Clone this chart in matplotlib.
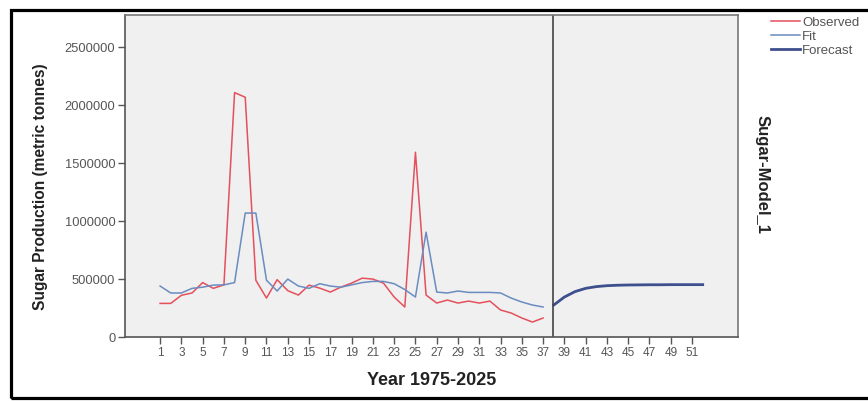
import numpy as np
import matplotlib
matplotlib.use("Agg")
import matplotlib.pyplot as plt
from matplotlib.patches import Rectangle

plt.rcParams["font.family"] = ["Liberation Sans", "DejaVu Sans"]

# observed / fitted values, periods 1..37
years_obs = list(range(1, 38))
observed = [290000, 290000, 360000, 380000, 470000, 420000, 450000, 2110000, 2070000, 490000,
            336000, 495000, 400000, 362000, 448000, 422000, 388000, 431000, 465000, 508000,
            500000, 465000, 345000, 259000, 1595000, 362000, 293000, 319000, 293000, 310000,
            293000, 310000, 233000, 207000, 164000, 129000, 164000]
fit = [440000, 380000, 380000, 420000, 430000, 448000, 450000, 470000, 1070000, 1070000,
       490000, 397000, 500000, 440000, 420000, 460000, 440000, 430000, 450000, 470000,
       480000, 480000, 460000, 410000, 345000, 905000, 388000, 380000, 397000, 385000,
       385000, 385000, 380000, 336000, 302000, 276000, 259000]

# forecast, periods 38..52
years_fc = list(range(38, 53))
forecast = [276000, 345000, 392000, 420000, 435000, 443000, 447000, 449000, 450000, 451000,
            451000, 452000, 452000, 452000, 452000]

x_ticks = list(range(1, 52, 2))
y_ticks = [0, 500000, 1000000, 1500000, 2000000, 2500000]

fig = plt.figure(figsize=(8.68, 4.01), dpi=100)
ax = fig.add_axes([0.144, 0.1596, 0.706, 0.803])
ax.set_facecolor("#f0f0f0")

c_obs = "#e4505c"
c_fit = "#6a8cc0"
c_fc = "#3d4f8c"

ax.plot(years_obs, observed, color=c_obs, lw=1.1, label="Observed")
ax.plot(years_obs, fit, color=c_fit, lw=1.1, label="Fit")
ax.plot(years_fc, forecast, color=c_fc, lw=2.0, label="Forecast")

ax.axvline(37.9, color="#444444", lw=1.2)

ax.set_xlim(-2.3, 55.3)
ax.set_ylim(0, 2780000)
ax.set_xticks(x_ticks)
ax.set_xticklabels([str(t) for t in x_ticks])
ax.set_yticks(y_ticks)
ax.set_yticklabels([str(t) for t in y_ticks])
ax.tick_params(axis="both", direction="out", length=5, width=1, color="#555555",
               labelcolor="#555555", pad=2)
ax.tick_params(axis="y", labelsize=9.3)
ax.tick_params(axis="x", labelsize=8.5)

for s in ax.spines.values():
    s.set_color("#777777")
    s.set_linewidth(1.2)
ax.spines["left"].set_color("#555555")
ax.spines["bottom"].set_color("#555555")

ax.set_ylabel("Sugar Production (metric tonnes)", fontsize=11.2, fontweight="bold",
              color="#222222")
ax.yaxis.set_label_coords(-0.126, 0.466)
ax.set_xlabel("Year 1975-2025", fontsize=13, fontweight="bold", color="#222222")
ax.xaxis.set_label_coords(0.5, -0.11)

fig.text(0.878, 0.5636, "Sugar-Model_1", rotation=-90, fontsize=12, fontweight="bold",
         color="#222222", ha="center", va="center")

leg = ax.legend(loc="upper left", bbox_to_anchor=(1.045, 1.012), frameon=False, fontsize=9.5,
                handlelength=2.2, handletextpad=0.2, labelspacing=0.15, borderaxespad=0.0)
for t in leg.get_texts():
    t.set_color("#555555")

# black frame around the whole figure
fig.patches.append(Rectangle((0.0125, 0.008), 1.1, 0.966, transform=fig.transFigure,
                             fill=False, edgecolor="black", lw=2.3, zorder=10))

fig.savefig("out.png", dpi=100)
